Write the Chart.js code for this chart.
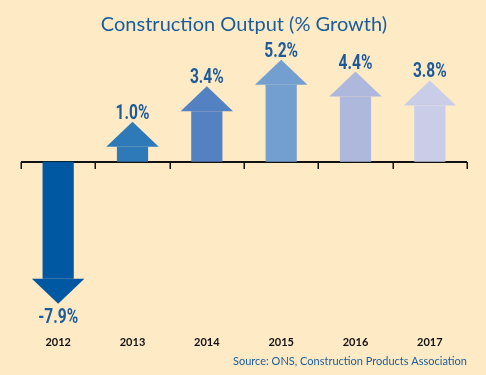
<!DOCTYPE html>
<html>
<head>
<meta charset="utf-8">
<script src="https://cdn.jsdelivr.net/npm/chart.js@4"></script>
<style>
  html, body { margin: 0; padding: 0; background: #FEEAC5; }
  #wrap { width: 486px; height: 375px; }
</style>
</head>
<body>
<div id="wrap"><canvas id="growthChart"></canvas></div>
<script>
const years = ['2012', '2013', '2014', '2015', '2016', '2017'];
const growth = [-7.9, 1.0, 3.4, 5.2, 4.4, 3.8];
const valueLabels = ['-7.9%', '1.0%', '3.4%', '5.2%', '4.4%', '3.8%'];
const arrowColors = ['#0057A2', '#2E7AB9', '#5381C1', '#739FD0', '#ADB8DC', '#C9CDE8'];
const sourceNote = 'Source: ONS, Construction Products Association';

const bgPlugin = {
    id: 'bg',
    beforeDraw(chart) {
        const c = chart.ctx;
        c.save();
        c.fillStyle = '#FEEAC5';
        c.fillRect(0, 0, chart.width, chart.height);
        c.restore();
    },
    afterDraw(chart) {
        const c = chart.ctx;
        c.save();
        c.fillStyle = '#1A5C9C';
        c.font = '11px Lato, sans-serif';
        c.textAlign = 'right';
        c.textBaseline = 'middle';
        c.fillText(sourceNote, chart.chartArea.right, 361);
        c.restore();
    }
};

// zero line with tick marks between the years
const zeroLinePlugin = {
    id: 'zeroLine',
    beforeDatasetsDraw(chart) {
        const c = chart.ctx;
        const xs = chart.scales.x;
        const y0 = Math.round(chart.scales.y.getPixelForValue(0));
        const left = chart.chartArea.left;
        const right = chart.chartArea.right;
        c.save();
        c.strokeStyle = '#111';
        c.lineWidth = 2;
        c.beginPath();
        c.moveTo(left, y0);
        c.lineTo(right, y0);
        c.stroke();
        c.lineWidth = 1.5;
        const marks = [left];
        for (let i = 0; i < years.length - 1; i++) {
            marks.push((xs.getPixelForTick(i) + xs.getPixelForTick(i + 1)) / 2);
        }
        marks.push(right);
        c.beginPath();
        marks.forEach(mx => {
            c.moveTo(Math.round(mx) + 0.25, y0);
            c.lineTo(Math.round(mx) + 0.25, y0 + 7);
        });
        c.stroke();
        c.restore();
    }
};

// arrow heads + value labels on the end of each bar
const arrowPlugin = {
    id: 'arrows',
    afterDatasetsDraw(chart) {
        const c = chart.ctx;
        const meta = chart.getDatasetMeta(0);
        c.save();
        meta.data.forEach((bar, i) => {
            const p = bar.getProps(['x', 'y', 'base', 'width'], true);
            const up = growth[i] >= 0;
            const hw = p.width * 0.84;
            const hh = 25;
            const tip = up ? p.y - hh : p.y + hh;
            c.fillStyle = arrowColors[i];
            c.beginPath();
            c.moveTo(p.x - hw, p.y);
            c.lineTo(p.x + hw, p.y);
            c.lineTo(p.x, tip);
            c.closePath();
            c.fill();

            // squeezed bold text, the original uses a condensed face
            c.save();
            c.translate(p.x, up ? tip - 3 : tip + 4);
            c.scale(0.74, 1);
            c.fillStyle = '#1D5A99';
            c.font = 'bold 21px Roboto, sans-serif';
            c.textAlign = 'center';
            c.textBaseline = up ? 'alphabetic' : 'top';
            c.fillText(valueLabels[i], 0, 0);
            c.restore();
        });
        c.restore();
    }
};

new Chart(document.getElementById('growthChart').getContext('2d'), {
    type: 'bar',
    data: {
        labels: years,
        datasets: [{
            data: growth,
            backgroundColor: arrowColors,
            borderWidth: 0,
            barPercentage: 0.84,
            categoryPercentage: 0.5
        }]
    },
    options: {
        responsive: true,
        maintainAspectRatio: false,
        animation: false,
        layout: { padding: { left: 21, right: 19, top: 0, bottom: 0 } },
        scales: {
            x: {
                grid: { display: false, drawTicks: false },
                border: { display: false },
                ticks: {
                    padding: 26,
                    color: '#111',
                    font: { family: 'Lato', weight: 'bold', size: 11 }
                }
            },
            y: {
                display: false,
                min: -10,
                max: 7
            }
        },
        plugins: {
            legend: { display: false },
            tooltip: { enabled: false },
            title: {
                display: true,
                text: 'Construction Output (% Growth)',
                color: '#1A5C9C',
                font: { family: 'Lato', size: 20, weight: 'normal' },
                padding: { top: 13, bottom: 21 }
            }
        }
    },
    plugins: [bgPlugin, zeroLinePlugin, arrowPlugin]
});
</script>
</body>
</html>
